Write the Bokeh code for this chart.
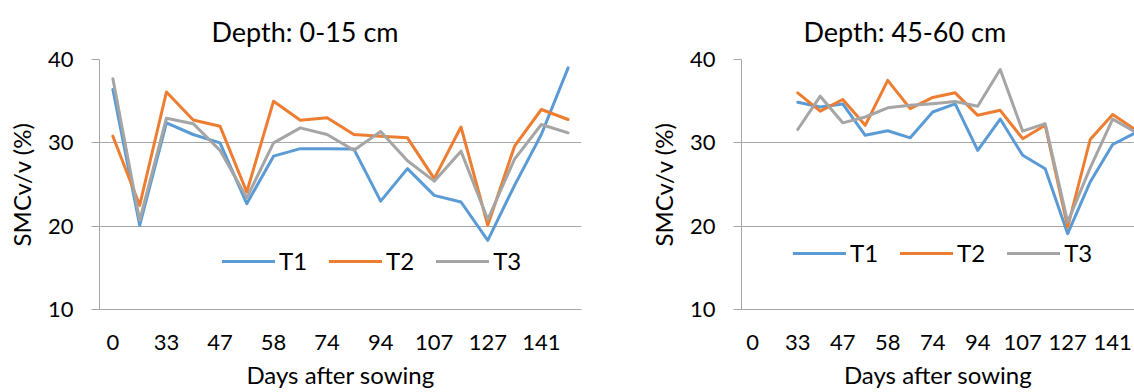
import math
from bokeh.plotting import figure
from bokeh.models import Range1d, FixedTicker, Legend, LegendItem, Title
from bokeh.layouts import row
from bokeh.embed import file_html
from bokeh.resources import INLINE

nan = float("nan")

# Days after sowing (category axis; every other label is shown)
days = [0, 26, 33, 40, 47, 52, 58, 66, 74, 84, 94, 100, 107, 117, 127, 134, 141, 148]
shown_labels = ["0", "33", "47", "58", "74", "94", "107", "127", "141"]
y_ticks = [10, 20, 30, 40]

# Depth 0-15 cm
t1_0_15 = [36.4, 20.1, 32.4, 31.0, 30.0, 22.7, 28.4, 29.3, 29.3, 29.25, 23.0, 26.9, 23.7, 22.9, 18.3, 24.9, 31.0, 39.0]
t2_0_15 = [30.8, 22.5, 36.1, 32.75, 32.0, 24.1, 35.0, 32.7, 33.0, 31.0, 30.8, 30.6, 25.7, 31.9, 20.1, 29.6, 34.0, 32.8]
t3_0_15 = [37.7, 20.7, 32.95, 32.3, 29.1, 23.4, 30.0, 31.8, 31.0, 29.1, 31.35, 27.85, 25.4, 29.0, 20.8, 28.05, 32.2, 31.2]

# Depth 45-60 cm
t1_45_60 = [nan, nan, 34.87, 34.3, 34.67, 30.9, 31.45, 30.6, 33.7, 34.67, 29.1, 32.85, 28.5, 26.9, 19.1, 25.3, 29.8, 31.2]
t2_45_60 = [nan, nan, 36.0, 33.8, 35.2, 32.1, 37.5, 34.1, 35.45, 36.0, 33.3, 33.9, 30.5, 32.1, 19.9, 30.4, 33.4, 31.6]
t3_45_60 = [nan, nan, 31.6, 35.6, 32.4, 33.1, 34.2, 34.5, 34.7, 34.95, 34.4, 38.8, 31.4, 32.3, 20.5, 27.0, 32.85, 31.3]

series_names = ["T1", "T2", "T3"]
colors = ["#5B9BD5", "#ED7D31", "#A5A5A5"]

FONT = "Lato"
GRID = "#A6A6A6"


def make_panel(title, series, width, x_end, bl, br, bt, bb, legend_loc, title_offset):
    p = figure(width=width, height=392, output_backend="svg", toolbar_location=None,
               x_range=Range1d(-0.5, x_end), y_range=Range1d(10, 40),
               min_border_left=bl, min_border_right=br, min_border_top=bt, min_border_bottom=bb)
    p.outline_line_color = None
    p.background_fill_color = "white"
    p.border_fill_color = "white"

    xs = list(range(len(days)))
    items = []
    for name, ys, c in zip(series_names, series, colors):
        r = p.line(xs, ys, line_color=c, line_width=3, line_join="round", line_cap="round")
        items.append(LegendItem(label=name, renderers=[r]))

    tick_pos = list(range(0, len(days), 2))
    p.xaxis.ticker = FixedTicker(ticks=tick_pos)
    p.xaxis.major_label_overrides = {i: lab for i, lab in zip(tick_pos, shown_labels)}
    p.xaxis.major_tick_line_color = None
    p.xaxis.minor_tick_line_color = None
    p.xaxis.axis_line_color = GRID
    p.xaxis.major_label_standoff = 19
    p.xaxis.axis_label = "Days after sowing"
    p.xaxis.axis_label_standoff = 7

    p.yaxis.ticker = FixedTicker(ticks=y_ticks)
    p.yaxis.axis_line_color = GRID
    p.yaxis.major_tick_line_color = GRID
    p.yaxis.major_tick_out = 8
    p.yaxis.major_tick_in = 0
    p.yaxis.minor_tick_line_color = None
    p.yaxis.major_label_standoff = 18
    p.yaxis.axis_label = "SMCv/v (%)"
    p.yaxis.axis_label_standoff = 9

    for ax in (p.xaxis, p.yaxis):
        ax.major_label_text_font = FONT
        ax.major_label_text_font_size = "22px"
        ax.major_label_text_color = "black"
        ax.axis_label_text_font = FONT
        ax.axis_label_text_font_size = "24px"
        ax.axis_label_text_font_style = "normal"
        ax.axis_label_text_color = "black"

    p.xgrid.grid_line_color = None
    p.ygrid.grid_line_color = GRID
    p.ygrid.ticker = FixedTicker(ticks=y_ticks)

    p.title = Title(text=title, align="left", offset=title_offset, text_font=FONT,
                    text_font_size="27px", text_font_style="normal", text_color="black",
                    standoff=24)

    legend = Legend(items=items, location=legend_loc, orientation="horizontal",
                    label_text_font=FONT, label_text_font_size="24px", label_text_color="black",
                    glyph_width=53, glyph_height=20, label_standoff=4, spacing=22,
                    padding=0, margin=0, border_line_color=None, background_fill_alpha=0)
    p.add_layout(legend)
    return p


p1 = make_panel("Depth: 0-15 cm", [t1_0_15, t2_0_15, t3_0_15], width=601, x_end=17.5,
                bl=99, br=20, bt=58, bb=83, legend_loc=(123, 34), title_offset=112)
p2 = make_panel("Depth: 45-60 cm", [t1_45_60, t2_45_60, t3_45_60], width=533, x_end=16.97,
                bl=140, br=0, bt=56, bb=79, legend_loc=(52, 42), title_offset=62)

layout = row(p1, p2)
open("out.html", "w").write(file_html(layout, INLINE))
